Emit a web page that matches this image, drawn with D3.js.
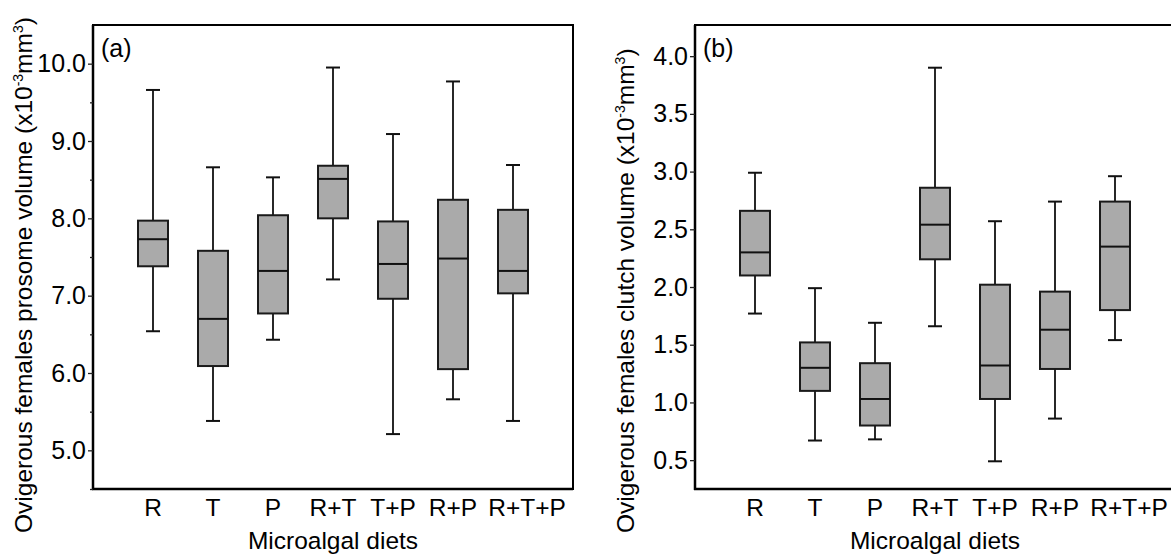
<!DOCTYPE html>
<html><head><meta charset="utf-8">
<script src="https://cdn.jsdelivr.net/npm/d3@7"></script>
<style>body{margin:0;background:#fff}svg{display:block}text{font-family:Arial,"Liberation Sans",sans-serif;fill:#000}</style>
</head><body><svg id="c" width="1171" height="557"></svg>
<script>
const categories = ["R","T","P","R+T","T+P","R+P","R+T+P"];
// Panel (a): prosome volume
const lowA  = [6.54, 5.38, 6.43, 7.21, 5.21, 5.66, 5.38];
const q1A   = [7.38, 6.09, 6.77, 8.00, 6.96, 6.05, 7.03];
const medA  = [7.73, 6.70, 7.32, 8.51, 7.41, 7.48, 7.32];
const q3A   = [7.97, 7.58, 8.04, 8.68, 7.96, 8.24, 8.11];
const highA = [9.66, 8.66, 8.53, 9.95, 9.09, 9.77, 8.69];
const ticksA = [5.0, 6.0, 7.0, 8.0, 9.0, 10.0];
const minorA = [4.5, 5.5, 6.5, 7.5, 8.5, 9.5];
// Panel (b): clutch volume
const lowB  = [1.77, 0.67, 0.68, 1.66, 0.49, 0.86, 1.54];
const q1B   = [2.10, 1.10, 0.80, 2.24, 1.03, 1.29, 1.80];
const medB  = [2.30, 1.30, 1.03, 2.54, 1.32, 1.63, 2.35];
const q3B   = [2.66, 1.52, 1.34, 2.86, 2.02, 1.96, 2.74];
const highB = [2.99, 1.99, 1.69, 3.90, 2.57, 2.74, 2.96];
const ticksB = [0.5, 1.0, 1.5, 2.0, 2.5, 3.0, 3.5, 4.0];
const minorB = [];

const svg = d3.select("#c");
const FS = 25;

function panel(opt){
  const {x0, w, yTop, yBot, domain, low, q1, med, q3, high, ticks, minor, label, title, titleX} = opt;
  const g = svg.append("g");
  const x = d3.scalePoint().domain(categories).range([x0, x0 + w]).padding(1);
  const y = d3.scaleLinear().domain(domain).range([yBot, yTop]);
  const data = categories.map((c,i)=>({c, lo:low[i], q1:q1[i], md:med[i], q3:q3[i], hi:high[i]}));
  const bw = 30, cw = 14;
  const items = g.selectAll("g.box").data(data).join("g").attr("class","box");
  items.append("line").attr("x1",d=>x(d.c)).attr("x2",d=>x(d.c)).attr("y1",d=>y(d.hi)).attr("y2",d=>y(d.q3)).attr("stroke","#111").attr("stroke-width",1.8);
  items.append("line").attr("x1",d=>x(d.c)).attr("x2",d=>x(d.c)).attr("y1",d=>y(d.q1)).attr("y2",d=>y(d.lo)).attr("stroke","#111").attr("stroke-width",1.8);
  items.append("line").attr("x1",d=>x(d.c)-cw/2).attr("x2",d=>x(d.c)+cw/2).attr("y1",d=>y(d.hi)).attr("y2",d=>y(d.hi)).attr("stroke","#111").attr("stroke-width",2);
  items.append("line").attr("x1",d=>x(d.c)-cw/2).attr("x2",d=>x(d.c)+cw/2).attr("y1",d=>y(d.lo)).attr("y2",d=>y(d.lo)).attr("stroke","#111").attr("stroke-width",2);
  items.append("rect").attr("x",d=>x(d.c)-bw/2).attr("width",bw).attr("y",d=>y(d.q3)).attr("height",d=>y(d.q1)-y(d.q3))
    .attr("fill","#aaaaaa").attr("stroke","#1a1a1a").attr("stroke-width",2);
  items.append("line").attr("x1",d=>x(d.c)-bw/2).attr("x2",d=>x(d.c)+bw/2).attr("y1",d=>y(d.md)).attr("y2",d=>y(d.md)).attr("stroke","#111").attr("stroke-width",2);

  // frame
  g.append("rect").attr("x",x0).attr("y",yTop).attr("width",w).attr("height",yBot-yTop).attr("fill","none").attr("stroke","#000").attr("stroke-width",2);
  g.append("line").attr("x1",x0).attr("x2",x0).attr("y1",yTop).attr("y2",yBot+1).attr("stroke","#000").attr("stroke-width",2.5);
  g.append("line").attr("x1",x0-1).attr("x2",x0+w).attr("y1",yBot).attr("y2",yBot).attr("stroke","#000").attr("stroke-width",2.5);

  // y axis
  const ax = d3.axisLeft(y).tickValues(ticks).tickSize(5).tickFormat(d3.format(".1f")).tickPadding(2);
  const ag = g.append("g").attr("transform",`translate(${x0},0)`).call(ax);
  ag.select(".domain").remove();
  ag.selectAll("line").attr("stroke","#222").attr("stroke-width",1.3);
  ag.selectAll("text").attr("font-size",FS).attr("font-family","Arial, 'Liberation Sans', sans-serif").attr("fill","#000");
  if (minor.length){
    const am = d3.axisLeft(y).tickValues(minor).tickSize(3).tickFormat("");
    const mg = g.append("g").attr("transform",`translate(${x0},0)`).call(am);
    mg.select(".domain").remove();
    mg.selectAll("line").attr("stroke","#222").attr("stroke-width",1.3);
  }

  // category labels
  g.selectAll("text.cat").data(categories).join("text").attr("class","cat")
    .attr("x",(d,i)=>x(d) + (i===categories.length-1 ? 14 : 0)).attr("y",yBot+27)
    .attr("text-anchor","middle").attr("font-size",24.5).text(d=>d);

  g.append("text").attr("x",x0 + w/2).attr("y",549).attr("text-anchor","middle").attr("font-size",24.5).text("Microalgal diets");
  g.append("text").attr("x",x0+8).attr("y",57).attr("font-size",FS).text(label);

  const t = g.append("text").attr("transform",`translate(${titleX},533) rotate(-90)`).attr("font-size",24.5);
  t.append("tspan").text(title + " (x10");
  t.append("tspan").attr("font-size",14).attr("dy",-9).text("-3");
  t.append("tspan").attr("dy",9).text("mm");
  t.append("tspan").attr("font-size",14).attr("dy",-9).text("3");
  t.append("tspan").attr("dy",9).text(")");
}

panel({x0:93, w:480, yTop:25, yBot:489, domain:[4.5,10.5], low:lowA, q1:q1A, med:medA, q3:q3A, high:highA,
  ticks:ticksA, minor:minorA, label:"(a)", title:"Ovigerous females prosome volume", titleX:32});
panel({x0:695, w:480, yTop:25, yBot:489, domain:[0.25,4.27], low:lowB, q1:q1B, med:medB, q3:q3B, high:highB,
  ticks:ticksB, minor:minorB, label:"(b)", title:"Ovigerous females clutch volume", titleX:634});
</script></body></html>
